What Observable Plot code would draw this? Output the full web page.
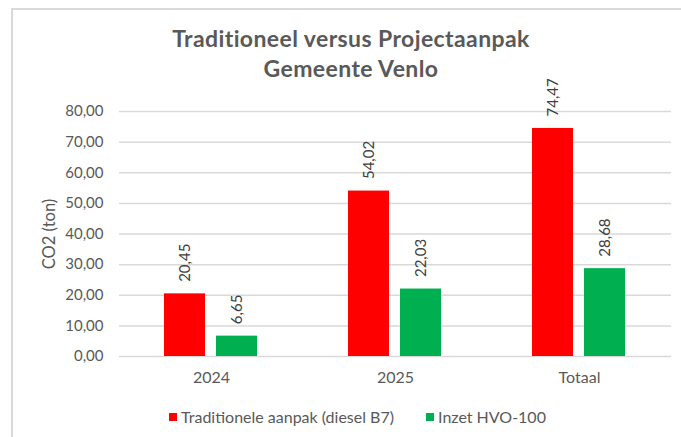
<!DOCTYPE html>
<html>
<head>
<meta charset="utf-8">
<script src="https://cdn.jsdelivr.net/npm/d3@7"></script>
<script src="https://cdn.jsdelivr.net/npm/@observablehq/plot@0.6"></script>
<style>
  html, body { margin: 0; padding: 0; background: #fff; }
  #page { position: relative; width: 681px; height: 437px; overflow: hidden; background: #fff; font-family: Lato, "Open Sans", sans-serif; color: #595959; }
  #frame { position: absolute; left: 11px; top: 8px; width: 700px; height: 460px; border-left: 2px solid #d9d9d9; border-top: 2px solid #d9d9d9; }
  #title { position: absolute; left: 101px; width: 500px; top: 23px; text-align: center; font-size: 23px; letter-spacing: 0.4px; font-weight: bold; line-height: 30px; color: #595959; }
  #chart { position: absolute; left: 0; top: 0; }
  #legend { position: absolute; top: 407px; left: 0; width: 681px; display: flex; justify-content: center; padding-left: 34px; box-sizing: border-box; font-size: 16px; line-height: 20px; color: #595959; }
  .item { display: flex; align-items: center; margin-right: 32px; }
  .item:last-child { margin-right: 0; }
  .sw { width: 8px; height: 8px; margin-right: 4px; }
</style>
</head>
<body>
<div id="page">
  <div id="frame"></div>
  <div id="chart"></div>
  <div id="title">Traditioneel versus Projectaanpak<br>Gemeente Venlo</div>
  <div id="legend"></div>
</div>
<script>
const categories = ["2024", "2025", "Totaal"];
const seriesNames = ["Traditionele aanpak (diesel B7)", "Inzet HVO-100"];
const traditioneel = [20.45, 54.02, 74.47];
const hvo = [6.65, 22.03, 28.68];
const colors = ["#ff0000", "#00b050"];
const yTicks = [0, 10, 20, 30, 40, 50, 60, 70, 80];
const yLabel = "CO2 (ton)";

const data = [];
categories.forEach((c, i) => {
  data.push({cat: c, series: seriesNames[0], value: traditioneel[i]});
  data.push({cat: c, series: seriesNames[1], value: hvo[i]});
});
const fmt = d => d.toFixed(2).replace(".", ",");

const chart = Plot.plot({
  width: 681,
  height: 400,
  marginLeft: 118,
  marginRight: 10,
  marginTop: 111,
  marginBottom: 44,
  style: {fontFamily: "Lato, 'Open Sans', sans-serif", fontSize: "15px", color: "#595959", background: "transparent"},
  fx: {domain: categories, padding: 0, label: null},
  x: {domain: seriesNames, axis: null, paddingInner: 0.21, paddingOuter: 0.86},
  y: {domain: [0, 80], axis: null},
  color: {domain: seriesNames, range: colors},
  marks: [
    Plot.gridY(yTicks, {stroke: "#d9d9d9", strokeOpacity: 1, strokeWidth: 1.5}),
    Plot.axisY(yTicks, {tickFormat: fmt, tickSize: 0, tickPadding: 16, fontSize: 15, label: null, fill: "#595959"}),
    Plot.axisFx({anchor: "bottom", tickSize: 0, tickPadding: 15, fontSize: 16, label: null, fill: "#595959"}),
    Plot.text([yLabel], {fx: () => categories[0], frameAnchor: "left", dx: -70, rotate: -90, text: d => d, fontSize: 16.5, fill: "#595959", lineAnchor: "middle", textAnchor: "middle"}),
    Plot.barY(data, {fx: "cat", x: "series", y: "value", fill: "series"}),
    Plot.text(data, {fx: "cat", x: "series", y: "value", text: d => fmt(d.value), rotate: -90, textAnchor: "start", lineAnchor: "middle", dy: -12, fill: "#404040", fontSize: 15})
  ]
});
document.getElementById("chart").appendChild(chart);

const legend = document.getElementById("legend");
seriesNames.forEach((s, i) => {
  const item = document.createElement("div");
  item.className = "item";
  const sw = document.createElement("div");
  sw.className = "sw";
  sw.style.background = colors[i];
  const t = document.createElement("span");
  t.textContent = s;
  item.appendChild(sw);
  item.appendChild(t);
  legend.appendChild(item);
});
</script>
</body>
</html>
